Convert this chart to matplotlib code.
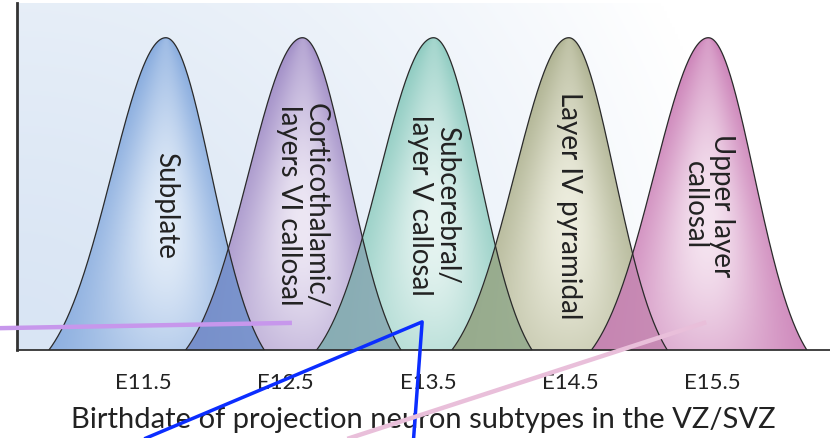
import numpy as np
import matplotlib
matplotlib.use('Agg')
import matplotlib.pyplot as plt
from matplotlib.colors import to_rgb

# projection neuron subtypes, in birth order
subtypes = ['Subplate',
            'Corticothalamic/\nlayers VI callosal',
            'Subcerebral/\nlayer V callosal',
            'Layer IV pyramidal',
            'Upper layer\ncallosal']
peak_day = [11.66, 12.62, 13.54, 14.49, 15.47]
peak_height = [0.9, 0.9, 0.9, 0.9, 0.9]
spread_left = [0.38, 0.38, 0.38, 0.38, 0.38]
spread_right = [0.32, 0.32, 0.32, 0.32, 0.32]

tick_days = [11.5, 12.5, 13.5, 14.5, 15.5]
tick_labels = ['E11.5', 'E12.5', 'E13.5', 'E14.5', 'E15.5']
xlabel = 'Birthdate of projection neuron subtypes in the VZ/SVZ'

# stray pen strokes lying over the figure (data units)
stroke_purple_x = [10.50, 12.53]
stroke_purple_y = [0.063, 0.078]
stroke_blue_x = [11.52, 13.46, 13.40]
stroke_blue_y = [-0.254, 0.081, -0.254]
stroke_pink_x = [12.95, 15.44]
stroke_pink_y = [-0.254, 0.078]

edge_colors = ['#80a6dc', '#9c88c4', '#87c8bd', '#aaae8c', '#c97bb4']
light_colors = ['#e2ecf8', '#ede7f4', '#e6f4f1', '#ededde', '#f5e4f0']
overlap_colors = ['#6f8fcb', '#86a7b1', '#92a98b', '#c485b0']

CUT = 2.16  # curves stop at this many spreads from the peak
E = np.exp(-CUT ** 2 / 2)

plt.rcParams['font.family'] = ['Lato', 'DejaVu Sans']
ink = '#222222'

fig = plt.figure(figsize=(8.3, 4.39), dpi=100)
ax = fig.add_axes([17 / 830, 1 - 351 / 439, 1 - 17 / 830, 347 / 439])
ax.set_xlim(10.615, 16.324)
ax.set_ylim(0, 1)

# pale radial wash behind the curves
gx, gy = np.meshgrid(np.linspace(0, 813, 300), np.linspace(0, 347, 150))
t = np.clip(np.hypot(gx, gy) / 730, 0, 1) ** 1.4
c0, c1 = np.array(to_rgb('#d9e5f4')), np.ones(3)
bg = c0 + (c1 - c0) * t[..., None]
ax.imshow(bg, extent=(0, 1, 0, 1), transform=ax.transAxes, origin='lower',
          aspect='auto', zorder=0, interpolation='bilinear')


def curve(x, mu, h, sl, sr):
    s = np.where(x < mu, sl, sr)
    a = h / (1 - E)
    y = a * (np.exp(-(x - mu) ** 2 / (2 * s ** 2)) - E)
    return np.clip(y, 0, None)


xs = np.linspace(10.6, 16.4, 2000)
curves = []
for i in range(len(subtypes)):
    mu, h, sl, sr = peak_day[i], peak_height[i], spread_left[i], spread_right[i]
    x0, x1 = mu - CUT * sl, mu + CUT * sr
    xx = np.linspace(x0, x1, 500)
    yy = curve(xx, mu, h, sl, sr)
    curves.append(curve(xs, mu, h, sl, sr))

    poly = ax.fill(np.r_[xx, x1, x0], np.r_[yy, 0, 0], color='none', zorder=1)[0]

    # shaded body: light in the lower middle, darker towards the edges
    X, Y = np.meshgrid(np.linspace(x0, x1, 200), np.linspace(0, h, 200))
    a = h / (1 - E)
    s = np.where(X < mu, sl, sr)
    hw = s * np.sqrt(-2 * np.log(np.clip(Y / a + E, 1e-6, 1)))
    r = np.abs(X - mu) / np.maximum(hw, 1e-6)
    shade = np.exp(-(r / 0.85) ** 2) * np.exp(-((Y / h - 0.4) / 0.55) ** 2)
    ce, cl = np.array(to_rgb(edge_colors[i])), np.array(to_rgb(light_colors[i]))
    img = ce + (cl - ce) * np.clip(shade, 0, 1)[..., None]
    im = ax.imshow(img, extent=(x0, x1, 0, h), origin='lower', aspect='auto',
                   zorder=1, interpolation='bilinear')
    im.set_clip_path(poly)

for i in range(len(subtypes) - 1):
    low = np.minimum(curves[i], curves[i + 1])
    ax.fill_between(xs, 0, low, where=low > 0,
                    color=overlap_colors[i], alpha=0.85, lw=0, zorder=2)

for i in range(len(subtypes)):
    mu, sl, sr = peak_day[i], spread_left[i], spread_right[i]
    xx = np.linspace(mu - CUT * sl, mu + CUT * sr, 500)
    ax.plot(xx, curve(xx, mu, peak_height[i], sl, sr), color='#2a2a2a', lw=0.9, zorder=3)
    ax.text(mu, 0.42, subtypes[i], rotation=-90, ha='center', va='center',
            fontsize=20, color=ink, linespacing=1.05, zorder=4)

ax.plot(stroke_purple_x, stroke_purple_y, color='#c797ec', lw=3.2, clip_on=False, zorder=5)
ax.plot(stroke_blue_x, stroke_blue_y, color='#0b2dff', lw=2.5, clip_on=False, zorder=5)
ax.plot(stroke_pink_x, stroke_pink_y, color='#e9bfda', lw=3.2, clip_on=False, zorder=5)

ax.set_xticks(tick_days)
ax.set_xticklabels(tick_labels)
ax.tick_params(axis='x', length=0, pad=16, labelsize=16, labelcolor=ink)
ax.set_yticks([])
ax.set_xlabel(xlabel, fontsize=21, color=ink, labelpad=10)
for side in ['top', 'right']:
    ax.spines[side].set_visible(False)
ax.spines['left'].set_linewidth(2.0)
ax.spines['left'].set_color('#333333')
ax.spines['bottom'].set_linewidth(1.3)
ax.spines['bottom'].set_color('#333333')

fig.savefig('out.png', dpi=100)
